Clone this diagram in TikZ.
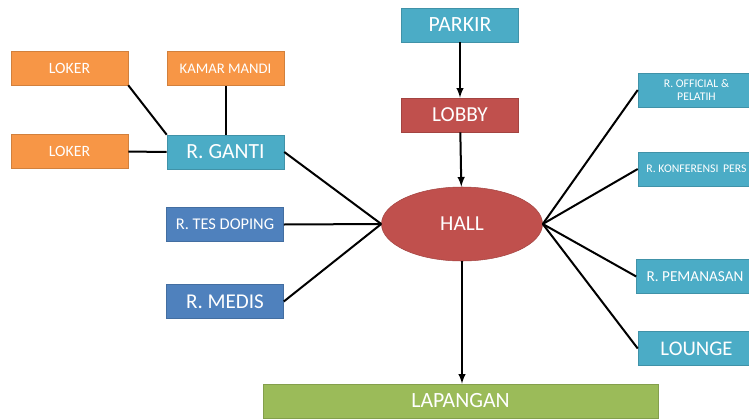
\documentclass[tikz,border=0pt]{standalone}
\usepackage{fontspec}
\setmainfont{Carlito}
\usepackage{tikz}
\usetikzlibrary{arrows.meta, positioning, shapes.geometric}

\definecolor{orangebox}{HTML}{F79646}
\definecolor{aquabox}{HTML}{4BACC6}
\definecolor{redbox}{HTML}{C0504D}
\definecolor{bluebox}{HTML}{4F81BD}
\definecolor{greenbox}{HTML}{9BBB59}

\newcommand{\fs}[1]{\fontsize{#1}{#1}\selectfont}

\begin{document}
\begin{tikzpicture}[
    x=0.75pt, y=-0.75pt,
    room/.style={draw=#1!85!black, fill=#1, text=white, line width=0.4pt,
        minimum width=87.75pt, minimum height=25.5pt, inner sep=0pt, align=center},
    hub/.style={draw=redbox!85!black, fill=redbox, ellipse, text=white,
        minimum width=120.75pt, minimum height=55.5pt, inner sep=0pt},
    link/.style={line width=1.5pt, black},
    flow/.style={-latex, line width=1.5pt, black}
]
    \useasboundingbox (0,0) rectangle (749,418);

    % kiri
    \node[room=orangebox, font=\fs{11.8}] (loker_a) at (69.5,68) {LOKER};
    \node[room=orangebox, font=\fs{11}] (kamar) at (225.5,68.5) {KAMAR MANDI};
    \node[room=orangebox, font=\fs{11.8}] (loker_b) at (69.5,151.5) {LOKER};
    \node[room=aquabox, font=\fs{16.2}] (ganti) at (225.5,152) {R. GANTI};
    \node[room=bluebox, font=\fs{12.3}] (doping) at (225,224.5) {R. TES DOPING};
    \node[room=bluebox, font=\fs{15.8}] (medis) at (225,301.5) {R. MEDIS};

    % tengah
    \node[room=aquabox, font=\fs{16.3}] (parkir) at (460,25) {PARKIR};
    \node[room=redbox, font=\fs{16}] (lobby) at (460,115) {LOBBY};
    \node[hub, font=\fs{16}] (hall) at (462,224) {HALL};
    \node[room=greenbox, font=\fs{16.3}, minimum width=296.25pt] (lapangan) at (460.5,401) {LAPANGAN};

    % kanan
    \node[room=aquabox, font=\fs{8.8}] (official) at (696.5,90) {R. OFFICIAL \&\\[1.5pt] PELATIH};
    \node[room=aquabox, font=\fs{8.8}] (pers) at (696.5,169) {R. KONFERENSI\, PERS};
    \node[room=aquabox, font=\fs{11.4}] (pemanasan) at (695,276.5) {R. PEMANASAN};
    \node[room=aquabox, font=\fs{15.6}] (lounge) at (696.5,348.5) {LOUNGE};

    \draw[link] (loker_a.south east) -- (ganti.north west);
    \draw[link] (kamar) -- (ganti);
    \draw[link] (loker_b) -- (ganti);
    \draw[link] (ganti.east) -- (hall.west);
    \draw[link] (doping.east) -- (hall.west);
    \draw[link] (medis.east) -- (hall.west);

    \draw[flow] (parkir) -- (lobby);
    \draw[flow] (lobby) -- (hall);
    \draw[flow] (hall.south) -- (lapangan.north -| hall.south);

    \draw[link] (hall.east) -- (official.west);
    \draw[link] (hall.east) -- (pers.west);
    \draw[link] (hall.east) -- (pemanasan.west);
    \draw[link] (hall.east) -- (lounge.west);
\end{tikzpicture}
\end{document}
